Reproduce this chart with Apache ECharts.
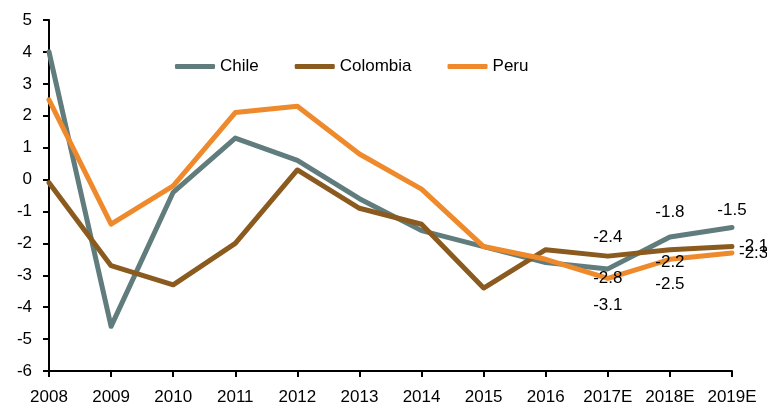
<!DOCTYPE html>
<html>
<head>
<meta charset="utf-8">
<script src="https://cdn.jsdelivr.net/npm/echarts@6/dist/echarts.min.js"></script>
<style>
html,body{margin:0;padding:0;background:#fff;}
#chart{width:767px;height:407px;}
</style>
</head>
<body>
<div id="chart"></div>
<script>
var categories = ['2008','2009','2010','2011','2012','2013','2014','2015','2016','2017E','2018E','2019E'];
var chile    = [4.0, -4.6, -0.4, 1.3, 0.6, -0.6, -1.6, -2.1, -2.6, -2.8, -1.8, -1.5];
var colombia = [-0.1, -2.7, -3.3, -2.0, 0.3, -0.9, -1.4, -3.4, -2.2, -2.4, -2.2, -2.1];
var peru     = [2.5, -1.4, -0.2, 2.1, 2.3, 0.8, -0.3, -2.1, -2.5, -3.1, -2.5, -2.3];
var yTicks = [-6, 5, 1];

var labelFont = 'Liberation Sans, Arial, sans-serif';
// label placement for the last three points (indices 9,10,11)
var labelStyles = {
  Chile: {
    9:  {position:'bottom', distance:1, offset:[2,0]},
    10: {position:'top', distance:16, offset:[-3,0]},
    11: {position:'top', distance:9, offset:[7,0]}
  },
  Colombia: {
    9:  {position:'top', distance:10, offset:[-2,0]},
    10: {position:'bottom', distance:4, offset:[4,0]},
    11: {position:'right', distance:7, offset:[0,0]}
  },
  Peru: {
    9:  {position:'bottom', distance:18, offset:[-5,0]},
    10: {position:'bottom', distance:16, offset:[1,0]},
    11: {position:'right', distance:7, offset:[0,8]}
  }
};

function buildData(name, values) {
  return values.map(function (v, i) {
    var ls = labelStyles[name][i];
    if (!ls) return {value: v, label: {show: false}};
    return {
      value: v,
      label: {
        show: true,
        position: ls.position,
        distance: ls.distance,
        offset: ls.offset
      }
    };
  });
}

function mkSeries(name, values, color) {
  return {
    name: name,
    type: 'line',
    data: buildData(name, values),
    symbol: 'circle',
    symbolSize: 0.01,
    showSymbol: true,
    showAllSymbol: true,
    smooth: false,
    lineStyle: {color: color, width: 5, join: 'round', cap: 'round'},
    itemStyle: {color: color},
    label: {
      show: true,
      color: '#000',
      opacity: 1,
      fontFamily: labelFont,
      fontSize: 17,
      formatter: function (p) { return p.value.toFixed(1); }
    },
    labelLayout: {hideOverlap: false},
    emphasis: {disabled: true},
    z: 2
  };
}

var chart = echarts.init(document.getElementById('chart'), null, {renderer: 'canvas'});
chart.setOption({
  animation: false,
  backgroundColor: '#fff',
  grid: {left: 49, right: 35, top: 20, bottom: 36, containLabel: false},
  legend: {
    left: 170, top: 53,
    itemWidth: 40, itemHeight: 5, itemGap: 36,
    icon: 'roundRect',
    textStyle: {fontFamily: labelFont, fontSize: 17, color: '#000'},
    data: [
      {name: 'Chile', itemStyle: {color: '#607c7c'}},
      {name: 'Colombia', itemStyle: {color: '#8b5a1e'}},
      {name: 'Peru', itemStyle: {color: '#ee8a2b'}}
    ]
  },
  xAxis: {
    type: 'category',
    data: categories,
    boundaryGap: false,
    axisLine: {onZero: false, lineStyle: {color: '#000', width: 2}},
    axisTick: {show: true, alignWithLabel: true, length: 6, lineStyle: {color: '#000', width: 2}},
    axisLabel: {color: '#000', fontFamily: labelFont, fontSize: 17, margin: 18, interval: 0},
    splitLine: {show: false}
  },
  yAxis: {
    type: 'value',
    min: yTicks[0], max: yTicks[1], interval: yTicks[2],
    axisLine: {show: true, lineStyle: {color: '#000', width: 2}},
    axisTick: {show: true, length: 6, lineStyle: {color: '#000', width: 2}},
    axisLabel: {color: '#000', fontFamily: labelFont, fontSize: 17, margin: 17},
    splitLine: {show: false}
  },
  series: [
    mkSeries('Chile', chile, '#607c7c'),
    mkSeries('Colombia', colombia, '#8b5a1e'),
    mkSeries('Peru', peru, '#ee8a2b')
  ]
});
</script>
</body>
</html>
